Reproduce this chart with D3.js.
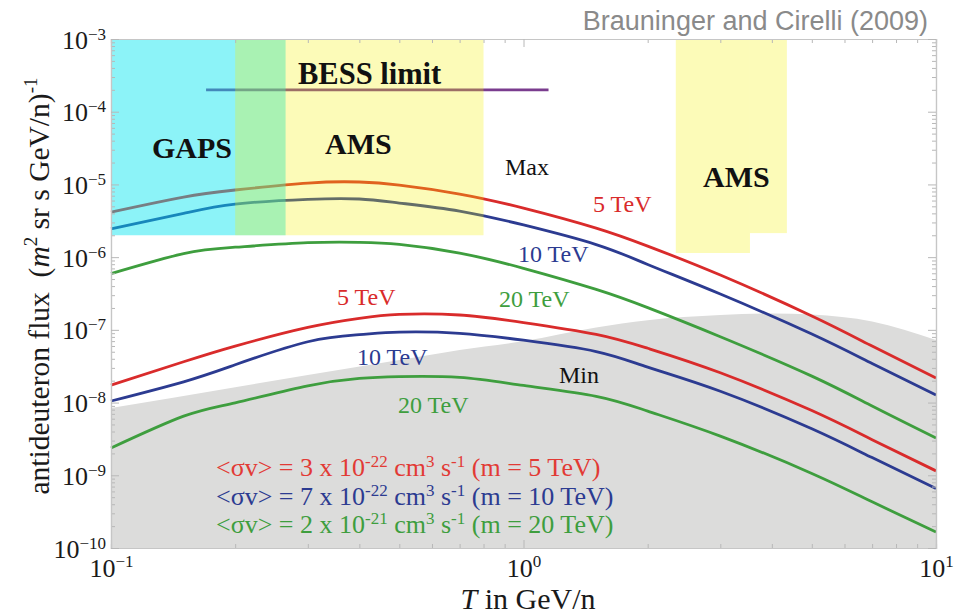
<!DOCTYPE html>
<html><head><meta charset="utf-8">
<script src="https://cdn.jsdelivr.net/npm/d3@7"></script>
<style>body{margin:0;background:#fff} svg{display:block}</style>
</head><body><svg id="c" width="961" height="615"></svg>
<script>
// ---------- data ----------
const T = [0.1, 0.15, 0.2, 0.3, 0.4, 0.5, 0.7, 1, 1.5, 2, 3, 5, 7, 10];
const maxRed   = [4.17e-6, 6.71e-6, 8.38e-6, 1.045e-5, 1.08e-5, 9.8e-6, 7.38e-6, 4.73e-6, 2.51e-6, 1.42e-6, 5.67e-7, 1.55e-7, 5.98e-8, 2.17e-8];
const maxBlue  = [2.44e-6, 4.0e-6, 5.37e-6, 6.24e-6, 6.3e-6, 5.55e-6, 4.31e-6, 2.77e-6, 1.49e-6, 7.94e-7, 3.11e-7, 8.75e-8, 3.44e-8, 1.27e-8];
const maxGreen = [5.94e-7, 1.12e-6, 1.37e-6, 1.58e-6, 1.6e-6, 1.5e-6, 1.14e-6, 7.02e-7, 3.6e-7, 2.02e-7, 8.04e-8, 2.31e-8, 8.95e-9, 3.25e-9];
const minRed   = [1.74e-8, 3.64e-8, 5.98e-8, 1.08e-7, 1.44e-7, 1.63e-7, 1.6e-7, 1.26e-7, 8.67e-8, 5.58e-8, 2.57e-8, 7.76e-9, 3.09e-9, 1.15e-9];
const minBlue  = [1.05e-8, 1.93e-8, 3.31e-8, 6.86e-8, 8.6e-8, 9.3e-8, 8.95e-8, 7.2e-8, 5.03e-8, 3.07e-8, 1.43e-8, 4.36e-9, 1.75e-9, 6.6e-10];
const minGreen = [2.37e-9, 6.5e-9, 9.93e-9, 1.7e-8, 2.15e-8, 2.28e-8, 2.22e-8, 1.72e-8, 1.22e-8, 7.64e-9, 3.46e-9, 1.06e-9, 4.31e-10, 1.66e-10];

// grey "Min" background band (upper edge)
const bandT    = [0.1, 0.2, 0.3, 0.5, 0.7, 1, 1.5, 2, 3, 4, 5, 7, 10];
const bandFlux = [8.4e-9, 1.63e-8, 2.39e-8, 3.85e-8, 5.3e-8, 7.0e-8, 1.08e-7, 1.36e-7, 1.6e-7, 1.68e-7, 1.62e-7, 1.3e-7, 7.24e-8];

// experiment sensitivity regions: [Tmin, Tmax, fluxLow, fluxHigh]
const gapsRegion = [[0.1, 0.265, 2e-6, 1e-3]];
const amsRegions = [[0.2, 0.8, 2e-6, 1e-3], [2.34, 3.54, 1.14e-6, 1e-3], [3.54, 4.35, 2.14e-6, 1e-3]];
const bessLimit  = {T0: 0.17, T1: 1.15, flux: 2e-4};

// axis tick labels (exponents of ten)
const xTickExp = ["−1", "0", "1"];
const yTickExp = ["−3", "−4", "−5", "−6", "−7", "−8", "−9", "−10"];

const legendLines = [
  {sv: "3", exp: "-22", m: "5"},
  {sv: "7", exp: "-22", m: "10"},
  {sv: "2", exp: "-21", m: "20"}
];

// ---------- setup ----------
const RED = "#d92b2b", BLUE = "#2c3b91", GREEN = "#3e9e3e";
const SERIF = "'Liberation Serif','Times New Roman',Times,serif";
const svg = d3.select("#c");
const x = d3.scaleLog().domain([0.1, 10]).range([111, 936]);
const y = d3.scaleLog().domain([1e-10, 1e-3]).range([548, 39]);

function rich(g, px, py, parts, size, fill, anchor, weight) {
  const t = g.append("text").attr("x", px).attr("y", py)
    .attr("font-family", SERIF).attr("font-size", size).attr("fill", fill)
    .attr("text-anchor", anchor || "start").attr("font-weight", weight || "normal")
    .style("white-space", "pre");
  let shift = 0;
  parts.forEach(p => {
    const s = typeof p === "string" ? {t: p} : p;
    const target = s.sup ? -(s.rise || size * 0.36) : 0;
    const ts = t.append("tspan").text(s.t).attr("dy", target - shift);
    if (s.sup) ts.attr("font-size", s.size || size * 0.64);
    if (s.it) ts.attr("font-style", "italic");
    shift = target;
  });
  return t;
}

// grey band
svg.append("path")
  .datum(bandT.map((t, i) => [t, bandFlux[i]]))
  .attr("fill", "#dcdcdb")
  .attr("d", d3.area().x(d => x(d[0])).y0(y(1e-10)).y1(d => y(d[1])).curve(d3.curveMonotoneX));

// curves
const line = d3.line().x(d => x(d[0])).y(d => y(d[1])).curve(d3.curveNatural);
[[maxRed, RED], [maxBlue, BLUE], [maxGreen, GREEN], [minRed, RED], [minBlue, BLUE], [minGreen, GREEN]]
  .forEach(([vals, col]) => {
    svg.append("path").datum(T.map((t, i) => [t, vals[i]]))
      .attr("fill", "none").attr("stroke", col).attr("stroke-width", 2.8).attr("d", line);
  });

// BESS limit
svg.append("line")
  .attr("x1", x(bessLimit.T0)).attr("x2", x(bessLimit.T1))
  .attr("y1", y(bessLimit.flux)).attr("y2", y(bessLimit.flux))
  .attr("stroke", "#7a3c8e").attr("stroke-width", 2.6);

// regions (translucent overlays)
svg.selectAll(".gaps").data(gapsRegion).enter().append("rect")
  .attr("x", d => x(d[0])).attr("width", d => x(d[1]) - x(d[0]))
  .attr("y", d => y(d[3])).attr("height", d => y(d[2]) - y(d[3]))
  .attr("fill", "#00e4f0").attr("fill-opacity", 0.45);
svg.selectAll(".ams").data(amsRegions).enter().append("rect")
  .attr("x", d => x(d[0])).attr("width", d => x(d[1]) - x(d[0]))
  .attr("y", d => y(d[3])).attr("height", d => y(d[2]) - y(d[3]))
  .attr("fill", "#f5ef00").attr("fill-opacity", 0.28);

// ---------- axes / frame ----------
const decadesX = [0.1, 1], decadesY = [1e-10, 1e-9, 1e-8, 1e-7, 1e-6, 1e-5, 1e-4];
const minorX = [], minorY = [];
decadesX.forEach(d => { for (let k = 2; k <= 9; k++) minorX.push(d * k); });
decadesY.forEach(d => { for (let k = 2; k <= 9; k++) minorY.push(d * k); });
const majorX = xTickExp.map(e => Math.pow(10, +e.replace("−", "-")));
const majorY = yTickExp.map(e => Math.pow(10, +e.replace("−", "-")));

function frameAxis(axisFn, scale, transform, major, minor) {
  const g = svg.append("g").attr("transform", transform);
  g.call(axisFn(scale).tickValues(minor).tickSize(-4).tickFormat(""));
  const gm = svg.append("g").attr("transform", transform);
  gm.call(axisFn(scale).tickValues(major).tickSize(-8).tickFormat(""));
  [g, gm].forEach(a => {
    a.select(".domain").attr("stroke", "#c6c6c6").attr("stroke-width", 1.2);
    a.selectAll(".tick line").attr("stroke", "#b8b8b8");
  });
  return gm;
}
const gBottom = frameAxis(d3.axisBottom, x, "translate(0,548)", majorX, minorX);
frameAxis(d3.axisTop, x, "translate(0,39)", majorX, minorX);
const gLeft = frameAxis(d3.axisLeft, y, "translate(111,0)", majorY, minorY);
frameAxis(d3.axisRight, y, "translate(936,0)", majorY, minorY);

gLeft.selectAll(".tick").each(function(d, i) {
  const g = d3.select(this);
  g.select("text").remove();
  rich(g, -5, 9, ["10", {t: yTickExp[i], sup: true, size: 17, rise: 9}], 26, "#1a1a1a", "end");
});
gBottom.selectAll(".tick").each(function(d, i) {
  const g = d3.select(this);
  g.select("text").remove();
  rich(g, 0, 29, ["10", {t: xTickExp[i], sup: true, size: 17, rise: 10}], 26, "#1a1a1a", "middle");
});

// axis titles
rich(svg, 528, 609, [{t: "T", it: true}, " in GeV/n"], 30, "#1a1a1a", "middle");
rich(svg, 0, 0, ["antideuteron flux  (", {t: "m", it: true}, {t: "2", sup: true, size: 19, rise: 12}, " sr s GeV/n)", {t: "-1", sup: true, size: 19, rise: 12}], 29.5, "#1a1a1a", "middle")
  .attr("transform", "translate(49,286) rotate(-90)");

// source note
svg.append("text").attr("x", 928).attr("y", 30).attr("text-anchor", "end")
  .attr("font-family", "'Liberation Sans',Arial,sans-serif").attr("font-size", 27)
  .attr("fill", "#8a8a8a").text("Brauninger and Cirelli (2009)");

// region labels
rich(svg, 298, 84, ["BESS limit"], 30.5, "#111", "start", "bold");
rich(svg, 152, 158, ["GAPS"], 30, "#111", "start", "bold");
rich(svg, 325, 154, ["AMS"], 30, "#111", "start", "bold");
rich(svg, 703, 187, ["AMS"], 30, "#111", "start", "bold");

// curve labels
rich(svg, 505, 175, ["Max"], 24, "#111");
rich(svg, 559, 383, ["Min"], 24, "#111");
rich(svg, 593, 212, ["5 TeV"], 24, RED);
rich(svg, 518, 262, ["10 TeV"], 24, BLUE);
rich(svg, 499, 307, ["20 TeV"], 24, GREEN);
rich(svg, 337, 305, ["5 TeV"], 24, RED);
rich(svg, 357, 365, ["10 TeV"], 24, BLUE);
rich(svg, 398, 413, ["20 TeV"], 24, GREEN);

// legend
const legCols = ["#e23a35", "#2c3b91", "#3e9e3e"];
const legY = [476, 505, 533];
legendLines.forEach((L, i) => {
  rich(svg, 216, legY[i], ["<σv> = " + L.sv + " x 10", {t: L.exp, sup: true, size: 17, rise: 9},
    " cm", {t: "3", sup: true, size: 17, rise: 9}, " s", {t: "-1", sup: true, size: 17, rise: 9},
    " (m = " + L.m + " TeV)"], 26, legCols[i]);
});
</script></body></html>
